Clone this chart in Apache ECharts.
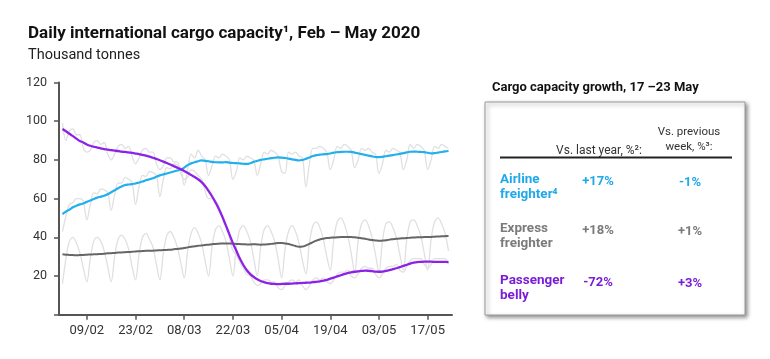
<!DOCTYPE html>
<html><head><meta charset="utf-8">
<script src="https://cdn.jsdelivr.net/npm/echarts@6/dist/echarts.min.js"></script>
<style>html,body{margin:0;padding:0;background:#fff}#c{width:770px;height:359px}</style>
</head><body><div id="c"></div>
<script>
// Tick labels shown on the x axis (dd/mm)
const tickLabels = ['09/02','23/02','08/03','22/03','05/04','19/04','03/05','17/05'];
const yTicks = [0, 20, 40, 60, 80, 100, 120];

// Daily values 02/02 .. 23/05 (thousand tonnes), 7-day smoothed
const airlineFreighter = [52.0,53.3,54.3,55.5,56.3,57.0,57.5, 58.3,59.0,59.8,60.5,61.0,61.5,62.3, 63.3,64.3,65.3,66.2,67.0,67.3,67.5, 67.8,68.3,68.8,69.5,70.0,70.5,71.3, 72.0,72.5,73.0,73.5,74.0,74.5,75.0, 76.0,77.3,78.2,78.8,79.3,79.8,79.5, 79.3,79.0,78.8,78.7,78.7,78.9,78.6, 78.4,78.3,78.2,78.0,77.9,78.3,79.0, 79.5,80.0,80.3,80.6,80.9,81.1,81.3, 81.2,81.0,80.7,80.3,80.0,79.7,80.0, 80.6,81.2,82.0,82.5,82.7,82.9,83.0, 83.3,83.8,84.0,84.1,84.2,84.2,84.1, 83.8,83.4,83.0,82.6,82.2,81.8,81.5, 81.4,81.6,81.9,82.2,82.5,82.8,83.1, 83.5,83.9,84.2,84.3,84.2,84.1,84.0, 83.7,83.4,83.5,83.8,84.1,84.4,84.6];
const expressFreighter = [31.2,31.0,30.9,30.8,30.7,30.8,30.9, 31.0,31.1,31.2,31.3,31.4,31.5,31.7, 31.8,31.9,32.1,32.2,32.3,32.4,32.5, 32.7,32.8,32.9,33.0,33.0,33.1,33.2, 33.3,33.4,33.5,33.6,33.8,34.0,34.2, 34.5,34.8,35.1,35.4,35.6,35.8,36.0, 36.2,36.4,36.6,36.7,36.8,36.8,36.8, 36.7,36.6,36.5,36.4,36.3,36.3,36.4, 36.3,36.2,36.3,36.4,36.6,36.8,37.0, 37.0,36.8,36.5,36.0,35.5,35.1,35.2, 35.8,36.6,37.5,38.3,38.9,39.3,39.6, 39.8,39.9,40.0,40.1,40.2,40.2,40.1, 40.0,39.8,39.5,39.2,38.9,38.6,38.4, 38.2,38.3,38.5,38.8,39.0,39.2,39.4, 39.5,39.6,39.8,39.9,40.0,40.0,40.1, 40.1,40.2,40.3,40.4,40.5,40.6,40.7];
const passengerBelly = [96.0,94.8,93.5,92.3,91.0,89.8,89.0, 88.0,87.3,86.8,86.4,86.0,85.6,85.3, 85.0,84.8,84.6,84.3,84.1,83.9,83.6, 83.3,83.0,82.6,82.2,81.7,81.1,80.5, 79.8,79.1,78.4,77.6,76.8,76.0,75.2, 74.3,73.2,72.2,71.2,70.0,68.5,66.5, 64.0,61.2,58.0,54.5,50.5,46.0,41.5, 37.0,33.0,29.0,25.7,23.0,21.0,19.5, 18.3,17.4,16.8,16.3,16.0,15.9,15.8, 15.9,16.0,16.0,16.1,16.2,16.3,16.4, 16.5,16.6,16.8,17.0,17.2,17.6,18.0, 18.6,19.2,19.8,20.4,21.0,21.5,21.9, 22.2,22.4,22.6,22.8,22.7,22.5,22.3, 22.2,22.3,22.6,23.0,23.5,24.0,24.6, 25.2,25.8,26.4,26.9,27.2,27.3,27.4, 27.4,27.4,27.3,27.3,27.3,27.3,27.2];

// Daily raw values (light grey lines)
const airlineFreighterDaily = [43,51,57,58,60,60,58.5, 49,57,63,62.5,65,64.5,63, 54,62,68,68,71,70,68.5, 57,66,72,71.5,74,73.5,72, 61,70,76,75.5,78,77.5,76, 67,75,83,81,85,82,80, 72,77,82,81,83,82,80, 70,74,81,80,82,81,80, 72,78,84,83,85,84,82, 74,73,84,83,84,82,81, 66,78,86,86,87,86,84, 75,80,87,86,88,87,85, 76,80,86,85,86,84,83, 73,78,85,84,86,85,84, 75,80,88,86,88,87,85, 75,80,87,86,88,87,86];
const expressFreighterDaily = [16,29,38,40,37,32,24, 17,29,38,40,38,33,25, 17,30,39,41,39,34,25, 18,31,40,42,39,35,26, 18,32,41,43,40,35,27, 19,33,42,45,42,37,28, 20,35,44,46,43,38,29, 20,35,44,46,43,38,29, 20,35,44,46,43,38,29, 19,34,43,46,43,37,28, 21,37,46,48,45,39,30, 23,39,48,50,47,41,32, 22,38,47,49,46,40,31, 22,38,47,48,45,40,31, 23,39,48,49,46,41,32, 23,39,48,50,47,42,33];
const passengerBellyDaily = [99,90,95,96,93,93,86, 84,85,89,90,88,89,83, 80,83,87,88,86,87,82, 78,81,85,86,84,84,78, 75,77,81,81,79,79,73, 70,71,75,74,72,70,64, 60,60,59,56,50,46,40, 33,31,27,24,21,20,17, 15,16,18,18,17,17,14, 13,15,17,18,17,18,15, 13,15,18,19,18,19,17, 16,18,21,22,22,23,20, 19,21,24,25,24,24,21, 19,21,24,25,25,26,23, 22,25,28,29,29,29,26, 24,26,29,29,29,29,26];

// Table (cargo capacity growth, 17-23 May)
const tableRows = [['Airline', 'freighter\u2074'], ['Express', 'freighter'], ['Passenger', 'belly']];
const vsLastYear = ['+17%', '+18%', '-72%'];
const vsPrevWeek = ['-1%', '+1%', '+3%'];
const rowColors = ['#1FA9EA', '#7B7B7B', '#7A1ED6'];

// Build categories 01/02 .. 24/05/2020
const categories = [];
for (let d = new Date(Date.UTC(2020, 1, 1)); d <= new Date(Date.UTC(2020, 4, 24)); d = new Date(d.getTime() + 86400000)) {
  const dd = String(d.getUTCDate()).padStart(2, '0');
  const mm = String(d.getUTCMonth() + 1).padStart(2, '0');
  categories.push(dd + '/' + mm);
}
const pad = arr => [null].concat(arr);

const chart = echarts.init(document.getElementById('c'), null, {renderer: 'canvas'});
const FONT = 'Roboto, "Liberation Sans", sans-serif';

const graphics = [
  {type: 'text', left: 28, top: 25, style: {text: 'Daily international cargo capacity\u00b9, Feb \u2013 May 2020', font: 'bold 17px ' + FONT, fill: '#111'}},
  {type: 'text', left: 28, top: 48, style: {text: 'Thousand tonnes', font: '14.5px ' + FONT, fill: '#222'}},
  {type: 'text', left: 492, top: 81, style: {text: 'Cargo capacity growth, 17 \u201323 May', font: 'bold 13px ' + FONT, fill: '#111'}},
  {type: 'rect', shape: {x: 485, y: 102, width: 260, height: 213}, style: {fill: '#fff', stroke: '#9a9a9a', lineWidth: 1, shadowBlur: 4, shadowColor: 'rgba(0,0,0,0.45)', shadowOffsetX: 2, shadowOffsetY: 2}, z: 1},
  {type: 'text', z: 2, style: {x: 599, y: 151, text: 'Vs. last year, %\u00b2:', font: '12px ' + FONT, fill: '#333', align: 'center', verticalAlign: 'middle'}},
  {type: 'text', z: 2, style: {x: 689, y: 132, text: 'Vs. previous', font: '11.5px ' + FONT, fill: '#333', align: 'center', verticalAlign: 'middle'}},
  {type: 'text', z: 2, style: {x: 689, y: 147, text: 'week, %\u00b3:', font: '11.5px ' + FONT, fill: '#333', align: 'center', verticalAlign: 'middle'}},
  {type: 'line', z: 2, shape: {x1: 500, y1: 157.5, x2: 732, y2: 157.5}, style: {stroke: '#222', lineWidth: 2}}
];
const rowY = [180, 229, 281];
tableRows.forEach((r, i) => {
  graphics.push({type: 'text', z: 2, style: {x: 500, y: rowY[i], text: r[0], font: 'bold 13.5px ' + FONT, fill: rowColors[i], verticalAlign: 'middle'}});
  graphics.push({type: 'text', z: 2, style: {x: 500, y: rowY[i] + 14.5, text: r[1], font: 'bold 13.5px ' + FONT, fill: rowColors[i], verticalAlign: 'middle'}});
  graphics.push({type: 'text', z: 2, style: {x: 598, y: rowY[i] + 2, text: vsLastYear[i], font: 'bold 13px ' + FONT, fill: rowColors[i], align: 'center', verticalAlign: 'middle'}});
  graphics.push({type: 'text', z: 2, style: {x: 690, y: rowY[i] + 3, text: vsPrevWeek[i], font: 'bold 13px ' + FONT, fill: rowColors[i], align: 'center', verticalAlign: 'middle'}});
});

const rawStyle = {type: 'line', smooth: 0.35, symbol: 'none', lineStyle: {color: '#e0e0e0', width: 1.3}, z: 1, silent: true};
const isTick = (idx, val) => tickLabels.includes(val);

chart.setOption({
  animation: false,
  textStyle: {fontFamily: FONT},
  grid: {left: 59, right: 318, top: 82.5, bottom: 44.3},
  xAxis: {
    type: 'category', data: categories, boundaryGap: false,
    axisLine: {lineStyle: {color: '#555', width: 2}},
    axisTick: {interval: isTick, length: 5, lineStyle: {color: '#555', width: 1.5}},
    axisLabel: {interval: isTick, color: '#333', fontSize: 13, margin: 10}
  },
  yAxis: {
    type: 'value', min: 0, max: 120, interval: 20,
    splitLine: {show: false},
    axisLine: {show: true, lineStyle: {color: '#555', width: 2}},
    axisTick: {show: true, length: 5, lineStyle: {color: '#555', width: 1.5}},
    axisLabel: {color: '#333', fontSize: 12.5, margin: 12, formatter: v => (v === 0 ? '' : String(v))}
  },
  graphic: graphics,
  series: [
    Object.assign({name: 'Airline freighter daily', data: pad(airlineFreighterDaily)}, rawStyle),
    Object.assign({name: 'Express freighter daily', data: pad(expressFreighterDaily)}, rawStyle),
    Object.assign({name: 'Passenger belly daily', data: pad(passengerBellyDaily)}, rawStyle),
    {name: 'Express freighter', type: 'line', smooth: 0.4, symbol: 'none', data: pad(expressFreighter), lineStyle: {color: '#666', width: 2}, z: 3},
    {name: 'Airline freighter', type: 'line', smooth: 0.4, symbol: 'none', data: pad(airlineFreighter), lineStyle: {color: '#22B0EC', width: 2.2}, z: 4},
    {name: 'Passenger belly', type: 'line', smooth: 0.4, symbol: 'none', data: pad(passengerBelly), lineStyle: {color: '#8C22E6', width: 2.3}, z: 5}
  ]
});
</script>
</body></html>
